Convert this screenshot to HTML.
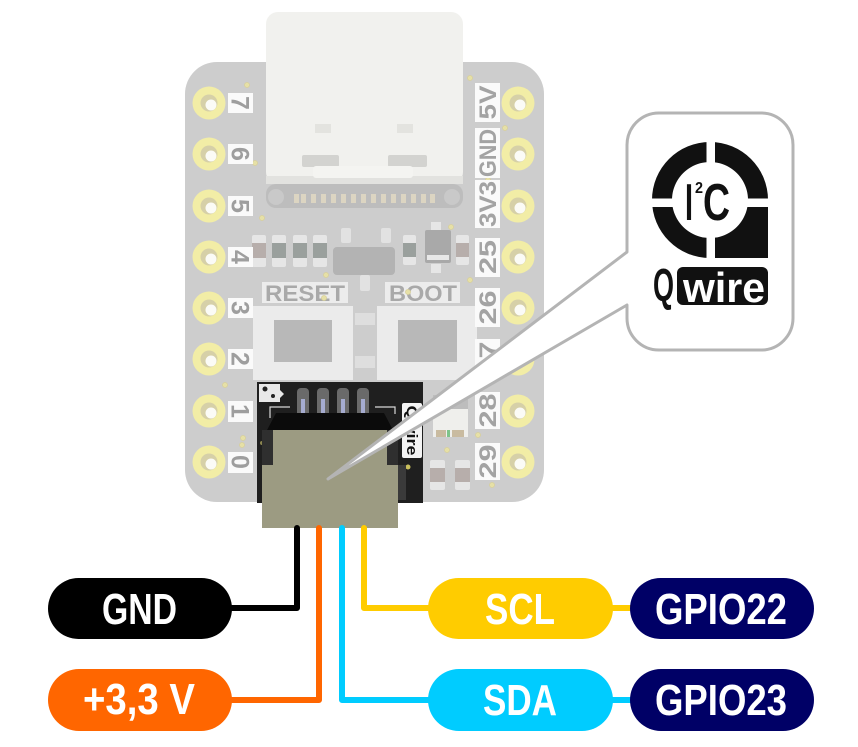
<!DOCTYPE html>
<html><head><meta charset="utf-8"><style>
html,body{margin:0;padding:0;background:#fff;}
svg{display:block;}
text{font-family:"Liberation Sans",sans-serif;font-weight:bold;}
</style></head><body>
<svg width="858" height="747" viewBox="0 0 858 747" xmlns="http://www.w3.org/2000/svg">
<!-- board -->
<rect x="185" y="62" width="359" height="440" rx="32" fill="#cdcdcd"/>

<!-- USB-C -->
<rect x="266" y="184" width="197" height="24" rx="10" fill="#bdbdbd"/>
<circle cx="276" cy="197" r="8" fill="#c9c9c9"/>
<circle cx="452" cy="197" r="8" fill="#c9c9c9"/>
<g fill="#dcd5c2">
<rect x="294" y="194" width="5" height="9"/><rect x="301" y="194" width="5" height="9"/>
<rect x="311" y="194" width="5" height="9"/><rect x="321" y="194" width="5" height="9"/>
<rect x="331" y="194" width="5" height="9"/><rect x="341" y="194" width="5" height="9"/>
<rect x="351" y="194" width="5" height="9"/><rect x="361" y="194" width="5" height="9"/>
<rect x="371" y="194" width="5" height="9"/><rect x="381" y="194" width="5" height="9"/>
<rect x="391" y="194" width="5" height="9"/><rect x="401" y="194" width="5" height="9"/>
<rect x="411" y="194" width="5" height="9"/><rect x="421" y="194" width="5" height="9"/>
<rect x="430" y="194" width="5" height="9"/>
</g>
<rect x="266" y="12" width="197" height="172" rx="12" fill="#f1f1ee"/>
<rect x="266" y="176" width="197" height="8" fill="#e2e2df"/>
<rect x="302" y="155" width="37" height="12" rx="2" fill="#d3d3d0"/>
<rect x="388" y="155" width="39" height="12" rx="2" fill="#d3d3d0"/>
<rect x="313" y="166" width="100" height="12" rx="3" fill="#f4f4f1"/>
<rect x="315" y="124" width="16" height="9" fill="#e3e3df"/>
<rect x="397" y="124" width="16" height="9" fill="#e3e3df"/>

<!-- small components -->
<g>
<rect x="252" y="235" width="14" height="32" rx="2" fill="#e6e6e6"/><rect x="252" y="243" width="14" height="15" fill="#b7aeab"/>
<rect x="272" y="235" width="14" height="32" rx="2" fill="#e6e6e6"/><rect x="272" y="243" width="14" height="15" fill="#9aa09d"/>
<rect x="293" y="235" width="14" height="32" rx="2" fill="#e6e6e6"/><rect x="293" y="243" width="14" height="15" fill="#9aa09d"/>
<rect x="313" y="235" width="14" height="32" rx="2" fill="#e6e6e6"/><rect x="313" y="243" width="14" height="15" fill="#9aa09d"/>
<rect x="341" y="228" width="10" height="15" rx="2" fill="#e2e2e2"/>
<rect x="381" y="228" width="10" height="15" rx="2" fill="#e2e2e2"/>
<rect x="333" y="247" width="62" height="28" rx="4" fill="#b3b3b3"/>
<rect x="403" y="235" width="13" height="30" rx="2" fill="#e6e6e6"/><rect x="403" y="243" width="13" height="14" fill="#9aa09d"/>
<rect x="431" y="222" width="10" height="10" fill="#e6e6e6"/>
<rect x="425" y="230" width="26" height="33" rx="2" fill="#a9a9a9"/><rect x="427" y="255" width="22" height="5" fill="#e8e8e8"/>
<rect x="431" y="264" width="10" height="9" fill="#e6e6e6"/>
<rect x="456" y="235" width="13" height="30" rx="2" fill="#e6e6e6"/><rect x="456" y="243" width="13" height="14" fill="#b7aeab"/>
<rect x="360" y="275" width="10" height="16" rx="2" fill="#e2e2e2"/>
<rect x="430" y="460" width="15" height="30" rx="2" fill="#e6e6e6"/><rect x="430" y="468" width="15" height="14" fill="#b7aeab"/>
<rect x="455" y="460" width="15" height="30" rx="2" fill="#e6e6e6"/><rect x="455" y="468" width="15" height="14" fill="#b7aeab"/>
<rect x="433" y="395" width="35" height="14" fill="#bdbdbd"/>
<rect x="433" y="409" width="35" height="28" fill="#efefec"/>
<rect x="436" y="430" width="10" height="7" fill="#c9bba0"/><rect x="447" y="430" width="3" height="7" fill="#7fc48a"/><rect x="452" y="430" width="12" height="7" fill="#c9bba0"/>
</g>

<!-- RESET / BOOT -->
<rect x="262" y="282" width="86" height="21" fill="#ececec"/>
<text x="265" y="301" font-size="22" fill="#a9a9a9" textLength="80" lengthAdjust="spacingAndGlyphs">RESET</text>
<rect x="385" y="282" width="75" height="21" fill="#ececec"/>
<text x="389" y="301" font-size="22" fill="#a9a9a9" textLength="68" lengthAdjust="spacingAndGlyphs">BOOT</text>
<rect x="355" y="313" width="20" height="12" fill="#dedede"/>
<rect x="355" y="356" width="20" height="12" fill="#dedede"/>
<rect x="253" y="306" width="100" height="74" fill="#ebebeb"/>
<rect x="274" y="320" width="58" height="42" fill="#b8b8b8"/>
<rect x="377" y="306" width="100" height="74" fill="#ebebeb"/>
<rect x="398" y="320" width="59" height="42" fill="#b8b8b8"/>

<!-- vias -->
<g fill="#e6e0a6" stroke="#d8d09a" stroke-width="0.8">
<circle cx="247" cy="85" r="2.5"/><circle cx="470" cy="78" r="2.5"/><circle cx="505" cy="128" r="2.5"/>
<circle cx="255" cy="163" r="2.5"/><circle cx="480" cy="167" r="2.5"/><circle cx="488" cy="180" r="2.5"/>
<circle cx="262" cy="218" r="2.5"/><circle cx="451" cy="227" r="2.5"/><circle cx="326" cy="275" r="2.5"/>
<circle cx="408" cy="292" r="2.5"/><circle cx="470" cy="280" r="2.5"/><circle cx="324" cy="298" r="2.5"/>
<circle cx="225" cy="385" r="2.5"/><circle cx="242" cy="445" r="2.5"/><circle cx="447" cy="450" r="2.5"/>
<circle cx="478" cy="435" r="2.5"/><circle cx="492" cy="485" r="2.5"/><circle cx="243" cy="438" r="2.5"/>
</g>

<!-- pads -->
<g id="pads">
<g fill="#f2eda6">
<circle cx="209" cy="103" r="16.5"/><circle cx="209" cy="154" r="16.5"/><circle cx="209" cy="206" r="16.5"/><circle cx="209" cy="257" r="16.5"/>
<circle cx="209" cy="308" r="16.5"/><circle cx="209" cy="359" r="16.5"/><circle cx="209" cy="411" r="16.5"/><circle cx="209" cy="462" r="16.5"/>
<circle cx="518" cy="103" r="16.5"/><circle cx="518" cy="154" r="16.5"/><circle cx="518" cy="206" r="16.5"/><circle cx="518" cy="257" r="16.5"/>
<circle cx="518" cy="308" r="16.5"/><circle cx="518" cy="359" r="16.5"/><circle cx="518" cy="411" r="16.5"/><circle cx="518" cy="462" r="16.5"/>
</g>
<g fill="#d6d0a8">
<circle cx="209" cy="103" r="8.5"/><circle cx="209" cy="154" r="8.5"/><circle cx="209" cy="206" r="8.5"/><circle cx="209" cy="257" r="8.5"/>
<circle cx="209" cy="308" r="8.5"/><circle cx="209" cy="359" r="8.5"/><circle cx="209" cy="411" r="8.5"/><circle cx="209" cy="462" r="8.5"/>
<circle cx="518" cy="103" r="8.5"/><circle cx="518" cy="154" r="8.5"/><circle cx="518" cy="206" r="8.5"/><circle cx="518" cy="257" r="8.5"/>
<circle cx="518" cy="308" r="8.5"/><circle cx="518" cy="359" r="8.5"/><circle cx="518" cy="411" r="8.5"/><circle cx="518" cy="462" r="8.5"/>
</g>
<g fill="#fbfbf6">
<circle cx="211" cy="105" r="5.5"/><circle cx="211" cy="156" r="5.5"/><circle cx="211" cy="208" r="5.5"/><circle cx="211" cy="259" r="5.5"/>
<circle cx="211" cy="310" r="5.5"/><circle cx="211" cy="361" r="5.5"/><circle cx="211" cy="413" r="5.5"/><circle cx="211" cy="464" r="5.5"/>
<circle cx="520" cy="105" r="5.5"/><circle cx="520" cy="156" r="5.5"/><circle cx="520" cy="208" r="5.5"/><circle cx="520" cy="259" r="5.5"/>
<circle cx="520" cy="310" r="5.5"/><circle cx="520" cy="361" r="5.5"/><circle cx="520" cy="413" r="5.5"/><circle cx="520" cy="464" r="5.5"/>
</g>
</g>

<!-- left labels -->
<g fill="#fafafa">
<rect x="228" y="93" width="25" height="20"/><rect x="228" y="144" width="25" height="20"/><rect x="228" y="196" width="25" height="20"/><rect x="228" y="247" width="25" height="20"/>
<rect x="228" y="298" width="25" height="20"/><rect x="228" y="349" width="25" height="20"/><rect x="228" y="401" width="25" height="21"/><rect x="228" y="452" width="25" height="21"/>
</g>
<g fill="#9e9e9e" font-size="25" text-anchor="middle">
<text transform="translate(240.5,103) rotate(90)" dy="9">7</text>
<text transform="translate(240.5,154) rotate(90)" dy="9">6</text>
<text transform="translate(240.5,206) rotate(90)" dy="9">5</text>
<text transform="translate(240.5,257) rotate(90)" dy="9">4</text>
<text transform="translate(240.5,308) rotate(90)" dy="9">3</text>
<text transform="translate(240.5,359) rotate(90)" dy="9">2</text>
<text transform="translate(240.5,411) rotate(90)" dy="9">1</text>
<text transform="translate(240.5,462) rotate(90)" dy="9">0</text>
</g>

<!-- right labels -->
<g fill="#fafafa">
<rect x="475" y="83" width="25" height="39"/><rect x="475" y="128" width="25" height="50"/><rect x="475" y="180" width="25" height="48"/>
<rect x="475" y="238" width="25" height="39"/><rect x="475" y="288" width="25" height="39"/><rect x="475" y="339" width="25" height="39"/>
<rect x="475" y="392" width="25" height="37"/><rect x="475" y="443" width="25" height="37"/>
</g>
<g fill="#a3a3a3" font-size="24">
<text transform="translate(487.5,102.5) rotate(-90)" dy="8.5" x="-17" textLength="34" lengthAdjust="spacingAndGlyphs">5V</text>
<text transform="translate(487.5,153) rotate(-90)" dy="8.5" x="-24" textLength="48" lengthAdjust="spacingAndGlyphs">GND</text>
<text transform="translate(487.5,204) rotate(-90)" dy="8.5" x="-23" textLength="46" lengthAdjust="spacingAndGlyphs">3V3</text>
<text transform="translate(487.5,257) rotate(-90)" dy="8.5" x="-17" textLength="34" lengthAdjust="spacingAndGlyphs">25</text>
<text transform="translate(487.5,307.5) rotate(-90)" dy="8.5" x="-17" textLength="34" lengthAdjust="spacingAndGlyphs">26</text>
<text transform="translate(487.5,358.5) rotate(-90)" dy="8.5" x="-17" textLength="34" lengthAdjust="spacingAndGlyphs">27</text>
<text transform="translate(487.5,410.5) rotate(-90)" dy="8.5" x="-17" textLength="34" lengthAdjust="spacingAndGlyphs">28</text>
<text transform="translate(487.5,461.5) rotate(-90)" dy="8.5" x="-17" textLength="34" lengthAdjust="spacingAndGlyphs">29</text>
</g>

<!-- dark qwiic area -->
<rect x="257" y="382" width="166" height="121" fill="#1f1f1f"/>
<path d="M259 384 h21 v6 l4 4 -4 4 v4 h-21 z" fill="#e8e8e8"/>
<circle cx="265" cy="389" r="2.5" fill="#222"/><circle cx="273" cy="396" r="2" fill="#222"/>
<polyline points="270,418 270,407 290,407" fill="none" stroke="#d8d8d8" stroke-width="1.2"/>
<polyline points="375,407 395,407 395,414" fill="none" stroke="#d8d8d8" stroke-width="1.2"/>
<rect x="402" y="403" width="20" height="55" rx="2" fill="#f4f4f4"/>
<text transform="translate(412,430.5) rotate(90)" dy="5" text-anchor="middle" font-size="15" fill="#111" textLength="50" lengthAdjust="spacingAndGlyphs">Qwire</text>
<circle cx="262" cy="443" r="2" fill="#8c8650"/><circle cx="408" cy="467" r="2.5" fill="#c9bf5c"/>

<!-- connector pins -->
<g>
<rect x="297" y="388" width="12" height="32" rx="4" fill="#6a6a6a"/><rect x="301" y="399" width="4" height="19" fill="#a6acd0"/>
<rect x="317" y="388" width="12" height="32" rx="4" fill="#6a6a6a"/><rect x="321" y="399" width="4" height="19" fill="#a6acd0"/>
<rect x="337" y="388" width="12" height="32" rx="4" fill="#6a6a6a"/><rect x="341" y="399" width="4" height="19" fill="#a6acd0"/>
<rect x="357" y="388" width="12" height="32" rx="4" fill="#6a6a6a"/><rect x="361" y="399" width="4" height="19" fill="#a6acd0"/>
</g>
<!-- connector body -->
<polygon points="266,432 276,413 384,413 394,432" fill="#0b0b0b"/>
<rect x="262" y="430" width="12" height="36" fill="#2f2f2f"/>
<rect x="386" y="430" width="12" height="36" fill="#2f2f2f"/>
<rect x="398" y="465" width="8" height="35" fill="#3a3a3a"/>
<polygon points="273,430 387,430 387,465 398,465 398,528 262,528 262,465 273,465" fill="#9c9b82"/>

<!-- callout -->
<path d="M627,252 L328,479 L627,305 L627,318 A32,32 0 0 0 659,350 L761,350 A32,32 0 0 0 793,318 L793,145 A32,32 0 0 0 761,113 L659,113 A32,32 0 0 0 627,145 Z" fill="#ffffff" stroke="#b4b4b4" stroke-width="3" stroke-linejoin="round"/>

<!-- I2C logo -->
<g>
<path fill-rule="evenodd" fill="#111" d="M710,142 A58,58 0 0 0 652,200 A58,58 0 0 0 710,258 L768,258 L768,200 A58,58 0 0 0 710,142 Z M710,162 A38,38 0 1 0 710.01,162 Z"/>
<rect x="706.5" y="138" width="8.5" height="124" fill="#fff"/>
<rect x="648" y="198.5" width="124" height="8.5" fill="#fff"/>
<text x="685" y="220" font-size="52" fill="#111" textLength="8" lengthAdjust="spacingAndGlyphs">I</text>
<text x="695" y="193" font-size="16" fill="#111" textLength="8" lengthAdjust="spacingAndGlyphs">2</text>
<text x="703" y="220" font-size="52" fill="#111" textLength="27" lengthAdjust="spacingAndGlyphs">C</text>
<text x="653" y="301" font-size="46" fill="#111" textLength="21" lengthAdjust="spacingAndGlyphs">Q</text>
<rect x="677" y="267" width="91" height="38" rx="6" fill="#111"/>
<text x="683" y="302" font-size="42" fill="#fff" textLength="82" lengthAdjust="spacingAndGlyphs">wire</text>
</g>

<!-- wires -->
<g fill="none" stroke-width="6" stroke-linejoin="round" stroke-linecap="round">
<polyline points="297,528 297,608 232,608" stroke="#000"/>
<polyline points="319,528 319,700 232,700" stroke="#ff6600"/>
<polyline points="342,528 342,700 430,700" stroke="#00ccff"/>
<polyline points="364,528 364,608 430,608" stroke="#ffcc00"/>
<line x1="610" y1="608" x2="633" y2="608" stroke="#ffcc00" stroke-linecap="butt"/>
<line x1="610" y1="700" x2="633" y2="700" stroke="#00ccff" stroke-linecap="butt"/>
</g>

<!-- pills -->
<rect x="48" y="578" width="184" height="61" rx="30.5" fill="#000"/>
<rect x="48" y="669" width="184" height="62" rx="31" fill="#ff6600"/>
<rect x="428" y="578" width="185" height="61" rx="30.5" fill="#ffcc00"/>
<rect x="630" y="578" width="184" height="61" rx="30.5" fill="#000066"/>
<rect x="428" y="669" width="185" height="62" rx="31" fill="#00ccff"/>
<rect x="630" y="669" width="184" height="62" rx="31" fill="#000066"/>
<g fill="#fff" font-size="44">
<text x="102" y="624" textLength="75" lengthAdjust="spacingAndGlyphs">GND</text>
<text x="83" y="714" textLength="112" lengthAdjust="spacingAndGlyphs">+3,3 V</text>
<text x="485" y="624" textLength="70" lengthAdjust="spacingAndGlyphs">SCL</text>
<text x="483" y="715" textLength="74" lengthAdjust="spacingAndGlyphs">SDA</text>
<text x="655" y="624" textLength="132" lengthAdjust="spacingAndGlyphs">GPIO22</text>
<text x="655" y="715" textLength="132" lengthAdjust="spacingAndGlyphs">GPIO23</text>
</g>
</svg>
</body></html>
